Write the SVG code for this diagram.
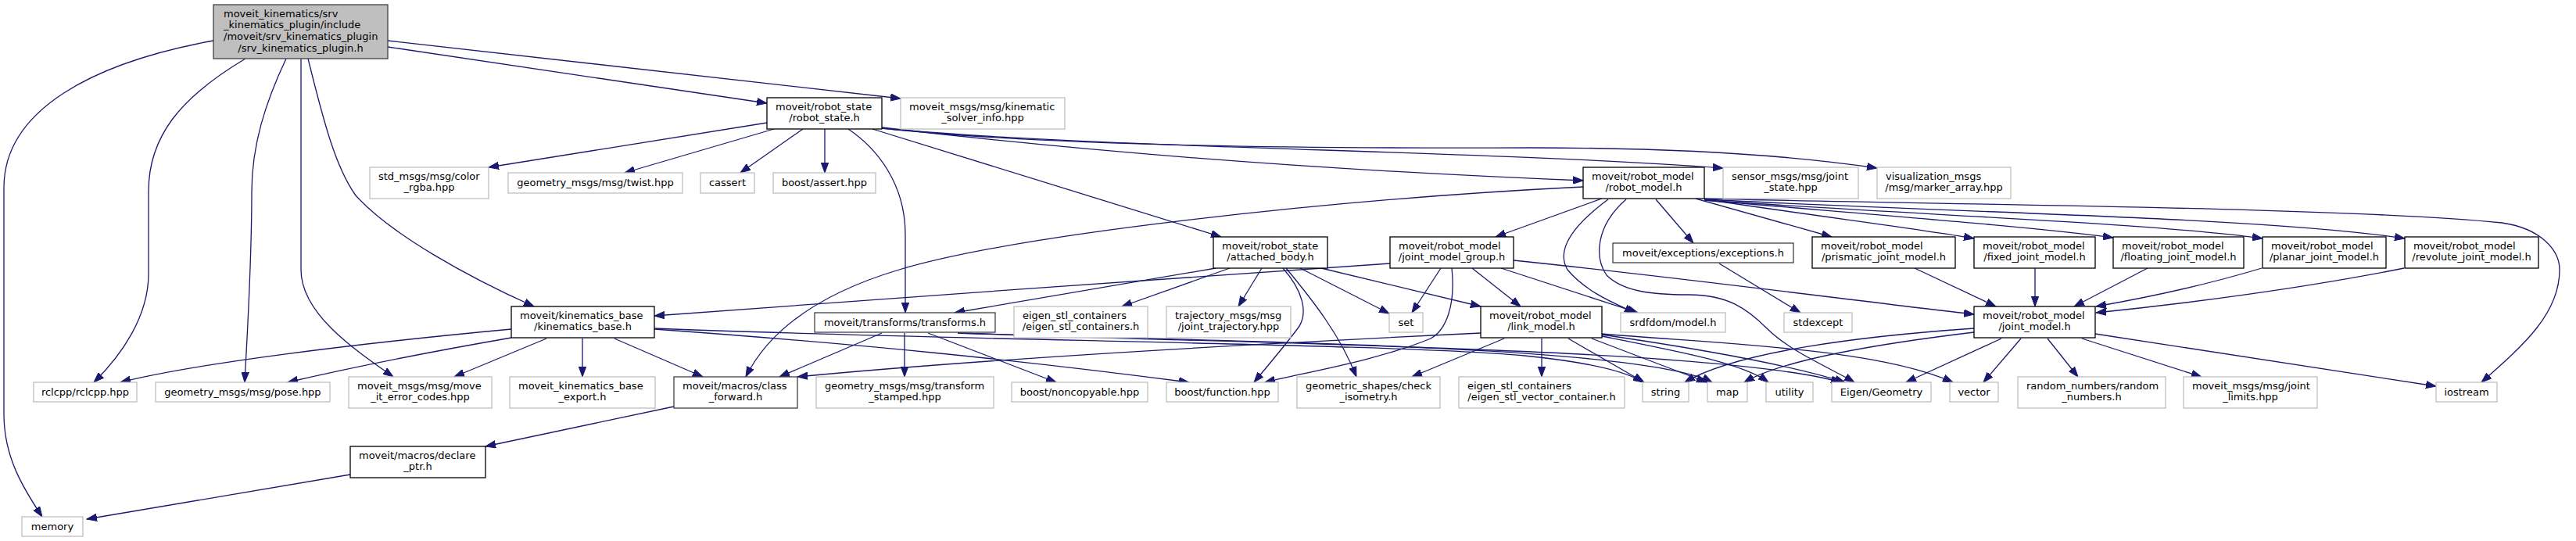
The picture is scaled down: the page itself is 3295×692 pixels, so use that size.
<svg xmlns="http://www.w3.org/2000/svg" width="3295" height="692" viewBox="0 0 3295 692">
<style>
.n rect{fill:#ffffff;stroke:#000000;stroke-width:1.3}
.x rect{fill:#ffffff;stroke:#bfbfbf;stroke-width:1.3}
.g rect{stroke:#404040}
.r rect{fill:#bfbfbf;stroke:#404040;stroke-width:1.3}
text{font-family:"DejaVu Sans","Liberation Sans",sans-serif;font-size:13px;fill:#000000}
.s{text-anchor:start}
.m{text-anchor:middle}
#edges path{fill:none;stroke:#191970;stroke-width:1.3;marker-end:url(#arr)}
</style>
<defs>
<marker id="arr" markerUnits="userSpaceOnUse" markerWidth="14" markerHeight="10" refX="13" refY="5" orient="auto" viewBox="0 0 14 10"><path d="M0,0.3 L13,5 L0,9.7 z" fill="#191970" stroke="#191970" stroke-width="1"/></marker>
</defs>
<rect x="0" y="0" width="3295" height="692" fill="#ffffff"/>
<g id="edges">
<path d="M496,60 L981,132"/>
<path d="M496,52 L1152,126"/>
<path d="M273,52 C120,80 5,140 5,240 L5,530 C5,585 30,625 54,661"/>
<path d="M314,75 C230,125 190,175 190,245 L190,350 C190,405 155,455 120,489"/>
<path d="M366,75 C340,130 322,185 322,245 C322,340 316,430 313,489"/>
<path d="M385,75 L385,345 C385,400 450,445 503,482"/>
<path d="M394,75 C415,160 430,215 455,250 C500,300 600,355 683,392"/>
<path d="M981,157 L625,214"/>
<path d="M990,165 L799,221"/>
<path d="M1027,165 L947,221"/>
<path d="M1055,165 L1055,221"/>
<path d="M1116,165 L1562,303"/>
<path d="M1085,165 C1122,190 1158,235 1158,300 L1158,400"/>
<path d="M1128,163 C1400,195 1700,218 2025,231"/>
<path d="M1128,164 C1400,190 1900,192 2204,215"/>
<path d="M1128,164 C1350,188 1700,190 1960,189 C2150,189 2300,200 2401,215"/>
<path d="M2025,239 C1700,255 1300,300 1150,345 C1050,375 985,420 954,482"/>
<path d="M2049,254 L1913,303"/>
<path d="M2057,255 C2010,290 1990,320 2005,345 C2030,375 2070,390 2091,400"/>
<path d="M2080,255 C2040,290 2040,330 2055,352 C2075,372 2110,377 2160,377 C2210,377 2235,395 2260,420 C2290,450 2340,470 2372,489"/>
<path d="M2118,255 L2166,311"/>
<path d="M2169,254 L2343,303"/>
<path d="M2180,255 C2350,280 2450,292 2525,305"/>
<path d="M2180,256 C2400,275 2600,290 2703,304"/>
<path d="M2180,256 C2450,275 2750,285 2894,305"/>
<path d="M2180,255 C2500,272 2900,278 3076,305"/>
<path d="M2180,254 C2500,262 3000,265 3200,285 C3250,292 3274,320 3274,345 C3274,400 3230,440 3174,489"/>
<path d="M1555,343 L1221,400"/>
<path d="M1573,343 L1435,392"/>
<path d="M1614,343 L1584,392"/>
<path d="M1663,343 L1777,401"/>
<path d="M1690,343 L1894,392"/>
<path d="M1645,343 C1680,385 1715,430 1735,482"/>
<path d="M1641,343 C1665,370 1675,400 1660,420 C1645,440 1620,470 1604,489"/>
<path d="M1778,337 C1500,355 1100,385 837,404"/>
<path d="M1843,343 L1806,400"/>
<path d="M1883,343 L1945,392"/>
<path d="M1920,343 L2095,400"/>
<path d="M1936,333 C2150,355 2400,388 2525,402"/>
<path d="M1857,343 C1862,390 1850,422 1830,433 C1760,462 1660,478 1618,489"/>
<path d="M1894,426 C1600,440 1250,460 1020,482"/>
<path d="M1924,433 L1806,482"/>
<path d="M1972,433 L1972,482"/>
<path d="M2006,433 L2103,489"/>
<path d="M2036,433 L2183,489"/>
<path d="M2049,430 C2150,450 2230,465 2262,489"/>
<path d="M2049,428 C2200,450 2300,470 2360,489"/>
<path d="M2049,427 C2200,440 2400,445 2498,489"/>
<path d="M2525,420 C2380,430 2220,450 2155,489"/>
<path d="M2525,425 C2400,440 2280,460 2231,489"/>
<path d="M2560,433 L2438,489"/>
<path d="M2585,433 L2537,489"/>
<path d="M2619,433 L2658,482"/>
<path d="M2663,433 L2816,482"/>
<path d="M2680,427 L3116,494"/>
<path d="M2449,343 L2553,392"/>
<path d="M2603,343 L2603,392"/>
<path d="M2747,343 L2653,392"/>
<path d="M2893,343 C2820,365 2750,380 2681,392"/>
<path d="M3075,343 C2950,368 2800,388 2681,400"/>
<path d="M2199,337 L2303,400"/>
<path d="M654,421 C450,440 250,465 154,489"/>
<path d="M654,432 C550,450 450,470 368,489"/>
<path d="M699,433 L581,482"/>
<path d="M745,433 L745,482"/>
<path d="M786,433 L899,482"/>
<path d="M837,421 C1100,440 1300,460 1521,489"/>
<path d="M837,420 C1200,435 1800,440 1950,455 C2030,463 2080,475 2102,489"/>
<path d="M1128,426 L997,482"/>
<path d="M1157,426 L1157,482"/>
<path d="M1187,426 L1351,489"/>
<path d="M1225,426 C1600,440 2200,445 2355,489"/>
<path d="M1225,426 C1600,438 2100,442 2190,489"/>
<path d="M862,520 L621,571"/>
<path d="M448,607 L111,664"/>
</g>
<g id="n_root" class="r"><rect x="273" y="6" width="223" height="69"/><text class="s" x="286" y="21.5">moveit_kinematics/srv</text><text class="s" x="286" y="36.2">_kinematics_plugin/include</text><text class="s" x="286" y="50.8">/moveit/srv_kinematics_plugin</text><text class="m" x="384.5" y="65.5">/srv_kinematics_plugin.h</text></g>
<g id="n_robot_state" class="n"><rect x="981" y="125" width="147" height="40"/><text class="s" x="992" y="140.7">moveit/robot_state</text><text class="m" x="1054.5" y="155.3">/robot_state.h</text></g>
<g id="n_solver_info" class="x"><rect x="1152" y="125" width="210" height="40"/><text class="s" x="1163" y="140.7">moveit_msgs/msg/kinematic</text><text class="m" x="1257" y="155.3">_solver_info.hpp</text></g>
<g id="n_color_rgba" class="x"><rect x="473" y="214" width="152" height="40"/><text class="s" x="484" y="229.7">std_msgs/msg/color</text><text class="m" x="549" y="244.3">_rgba.hpp</text></g>
<g id="n_twist" class="x"><rect x="650" y="221" width="223" height="26"/><text class="m" x="761.5" y="237.7">geometry_msgs/msg/twist.hpp</text></g>
<g id="n_cassert" class="x"><rect x="896" y="221" width="69" height="26"/><text class="m" x="930.5" y="237.7">cassert</text></g>
<g id="n_boost_assert" class="x"><rect x="989" y="221" width="131" height="26"/><text class="m" x="1054.5" y="237.7">boost/assert.hpp</text></g>
<g id="n_robot_model" class="n"><rect x="2025" y="214" width="155" height="40"/><text class="s" x="2036" y="229.7">moveit/robot_model</text><text class="m" x="2102.5" y="244.3">/robot_model.h</text></g>
<g id="n_joint_state" class="x"><rect x="2204" y="214" width="173" height="40"/><text class="s" x="2215" y="229.7">sensor_msgs/msg/joint</text><text class="m" x="2290.5" y="244.3">_state.hpp</text></g>
<g id="n_marker_array" class="x"><rect x="2401" y="214" width="171" height="40"/><text class="s" x="2412" y="229.7">visualization_msgs</text><text class="m" x="2486.5" y="244.3">/msg/marker_array.hpp</text></g>
<g id="n_attached_body" class="n"><rect x="1552" y="303" width="146" height="40"/><text class="s" x="1563" y="318.7">moveit/robot_state</text><text class="m" x="1625" y="333.3">/attached_body.h</text></g>
<g id="n_joint_model_group" class="n"><rect x="1778" y="303" width="158" height="40"/><text class="s" x="1789" y="318.7">moveit/robot_model</text><text class="m" x="1857" y="333.3">/joint_model_group.h</text></g>
<g id="n_exceptions" class="n g"><rect x="2063" y="311" width="231" height="25"/><text class="m" x="2178.5" y="327.5">moveit/exceptions/exceptions.h</text></g>
<g id="n_prismatic" class="n"><rect x="2318" y="303" width="183" height="40"/><text class="s" x="2329" y="318.7">moveit/robot_model</text><text class="m" x="2409.5" y="333.3">/prismatic_joint_model.h</text></g>
<g id="n_fixed" class="n"><rect x="2525" y="303" width="155" height="40"/><text class="s" x="2536" y="318.7">moveit/robot_model</text><text class="m" x="2602.5" y="333.3">/fixed_joint_model.h</text></g>
<g id="n_floating" class="n"><rect x="2703" y="303" width="167" height="40"/><text class="s" x="2714" y="318.7">moveit/robot_model</text><text class="m" x="2786.5" y="333.3">/floating_joint_model.h</text></g>
<g id="n_planar" class="n"><rect x="2894" y="303" width="158" height="40"/><text class="s" x="2905" y="318.7">moveit/robot_model</text><text class="m" x="2973" y="333.3">/planar_joint_model.h</text></g>
<g id="n_revolute" class="n"><rect x="3076" y="303" width="171" height="40"/><text class="s" x="3087" y="318.7">moveit/robot_model</text><text class="m" x="3161.5" y="333.3">/revolute_joint_model.h</text></g>
<g id="n_kinematics_base" class="n"><rect x="654" y="392" width="183" height="40"/><text class="s" x="665" y="407.7">moveit/kinematics_base</text><text class="m" x="745.5" y="422.3">/kinematics_base.h</text></g>
<g id="n_transforms" class="n g"><rect x="1042" y="400" width="231" height="25"/><text class="m" x="1157.5" y="416.5">moveit/transforms/transforms.h</text></g>
<g id="n_eigen_stl_containers" class="x"><rect x="1297" y="392" width="171" height="40"/><text class="s" x="1308" y="407.7">eigen_stl_containers</text><text class="m" x="1382.5" y="422.3">/eigen_stl_containers.h</text></g>
<g id="n_joint_trajectory" class="x"><rect x="1492" y="392" width="159" height="40"/><text class="s" x="1503" y="407.7">trajectory_msgs/msg</text><text class="m" x="1571.5" y="422.3">/joint_trajectory.hpp</text></g>
<g id="n_set" class="x"><rect x="1777" y="400" width="43" height="25"/><text class="m" x="1798.5" y="416.5">set</text></g>
<g id="n_link_model" class="n"><rect x="1894" y="392" width="155" height="40"/><text class="s" x="1905" y="407.7">moveit/robot_model</text><text class="m" x="1971.5" y="422.3">/link_model.h</text></g>
<g id="n_srdfdom" class="x"><rect x="2073" y="400" width="134" height="25"/><text class="m" x="2140" y="416.5">srdfdom/model.h</text></g>
<g id="n_stdexcept" class="x"><rect x="2282" y="400" width="87" height="25"/><text class="m" x="2325.5" y="416.5">stdexcept</text></g>
<g id="n_joint_model" class="n"><rect x="2525" y="392" width="155" height="40"/><text class="s" x="2536" y="407.7">moveit/robot_model</text><text class="m" x="2602.5" y="422.3">/joint_model.h</text></g>
<g id="n_rclcpp" class="x"><rect x="43" y="489" width="132" height="25"/><text class="m" x="109" y="505.5">rclcpp/rclcpp.hpp</text></g>
<g id="n_pose" class="x"><rect x="199" y="489" width="223" height="25"/><text class="m" x="310.5" y="505.5">geometry_msgs/msg/pose.hpp</text></g>
<g id="n_error_codes" class="x"><rect x="446" y="482" width="183" height="40"/><text class="s" x="457" y="497.7">moveit_msgs/msg/move</text><text class="m" x="537.5" y="512.3">_it_error_codes.hpp</text></g>
<g id="n_export" class="x"><rect x="652" y="482" width="186" height="40"/><text class="s" x="663" y="497.7">moveit_kinematics_base</text><text class="m" x="745" y="512.3">_export.h</text></g>
<g id="n_class_forward" class="n g"><rect x="862" y="482" width="158" height="40"/><text class="s" x="873" y="497.7">moveit/macros/class</text><text class="m" x="941" y="512.3">_forward.h</text></g>
<g id="n_transform_stamped" class="x"><rect x="1044" y="482" width="227" height="40"/><text class="s" x="1055" y="497.7">geometry_msgs/msg/transform</text><text class="m" x="1157.5" y="512.3">_stamped.hpp</text></g>
<g id="n_noncopyable" class="x"><rect x="1294" y="489" width="174" height="25"/><text class="m" x="1381" y="505.5">boost/noncopyable.hpp</text></g>
<g id="n_function" class="x"><rect x="1492" y="489" width="143" height="25"/><text class="m" x="1563.5" y="505.5">boost/function.hpp</text></g>
<g id="n_check_isometry" class="x"><rect x="1659" y="482" width="183" height="40"/><text class="s" x="1670" y="497.7">geometric_shapes/check</text><text class="m" x="1750.5" y="512.3">_isometry.h</text></g>
<g id="n_vector_container" class="x"><rect x="1866" y="482" width="212" height="40"/><text class="s" x="1877" y="497.7">eigen_stl_containers</text><text class="m" x="1972" y="512.3">/eigen_stl_vector_container.h</text></g>
<g id="n_string" class="x"><rect x="2101" y="489" width="59" height="25"/><text class="m" x="2130.5" y="505.5">string</text></g>
<g id="n_map" class="x"><rect x="2184" y="489" width="51" height="25"/><text class="m" x="2209.5" y="505.5">map</text></g>
<g id="n_utility" class="x"><rect x="2259" y="489" width="60" height="25"/><text class="m" x="2289" y="505.5">utility</text></g>
<g id="n_eigen_geometry" class="x"><rect x="2343" y="489" width="127" height="25"/><text class="m" x="2406.5" y="505.5">Eigen/Geometry</text></g>
<g id="n_vector" class="x"><rect x="2494" y="489" width="62" height="25"/><text class="m" x="2525" y="505.5">vector</text></g>
<g id="n_random_numbers" class="x"><rect x="2581" y="482" width="189" height="40"/><text class="s" x="2592" y="497.7">random_numbers/random</text><text class="m" x="2675.5" y="512.3">_numbers.h</text></g>
<g id="n_joint_limits" class="x"><rect x="2793" y="482" width="171" height="40"/><text class="s" x="2804" y="497.7">moveit_msgs/msg/joint</text><text class="m" x="2878.5" y="512.3">_limits.hpp</text></g>
<g id="n_iostream" class="x"><rect x="3116" y="489" width="78" height="25"/><text class="m" x="3155" y="505.5">iostream</text></g>
<g id="n_declare_ptr" class="n"><rect x="448" y="571" width="173" height="40"/><text class="s" x="459" y="586.7">moveit/macros/declare</text><text class="m" x="534.5" y="601.3">_ptr.h</text></g>
<g id="n_memory" class="x"><rect x="28" y="661" width="78" height="25"/><text class="m" x="67" y="677.5">memory</text></g>
</svg>
